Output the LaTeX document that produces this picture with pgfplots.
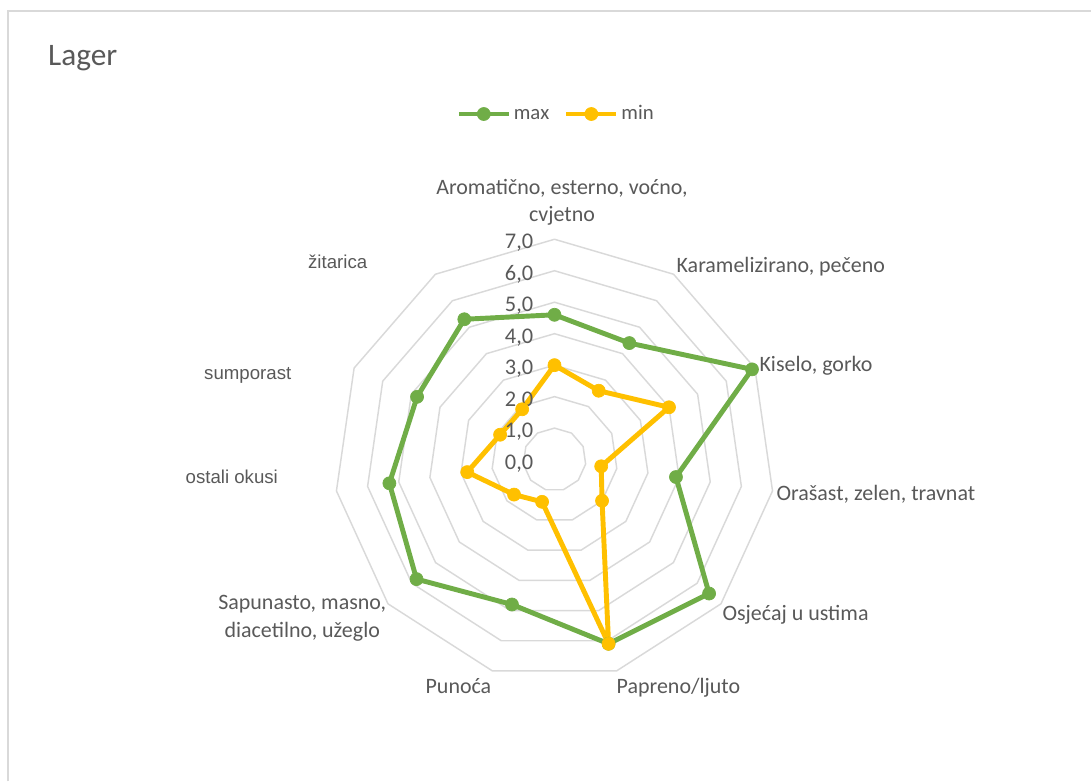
\documentclass[border=0pt]{standalone}
\usepackage{fontspec}
\setmainfont{Carlito}
\newfontfamily\arialf{Liberation Sans}
\usepackage{pgfplots}
\pgfplotsset{compat=1.18}
\definecolor{txt}{HTML}{595959}
\definecolor{gridc}{HTML}{D9D9D9}
\definecolor{cmax}{HTML}{70AD47}
\definecolor{cmin}{HTML}{FFC000}
\begin{document}
\begin{tikzpicture}
\begin{axis}[
  x=23.625pt, y=23.625pt,
  xmin=-17.619, xmax=17.048, ymin=-10.222, ymax=14.603,
  hide axis, clip=false,
  legend style={at={(axis cs:0.06,10.98)}, anchor=center, draw=none, fill=none,
    legend columns=2, font=\fontsize{15.6}{18}\selectfont\color{txt},
    nodes={text depth=0pt, text height=1.6ex},
    /tikz/every even column/.append style={column sep=9pt}},
  legend image code/.code={\draw[mark repeat=2,mark phase=2] plot coordinates {(0pt,0pt) (18.75pt,0pt) (37.5pt,0pt)};},
]
\path (axis cs:-17.619,-10.222) rectangle (axis cs:17.048,14.603);
\draw[gridc, line width=1.5pt] (axis cs:-17.365,-10.222) -- (axis cs:-17.365,14.254) -- (axis cs:17.048,14.254);
% grid rings
\pgfplotsinvokeforeach{1,2,3,4,5,6,7}{
\addplot[forget plot, gridc, line width=1.1pt, data cs=polar, no marks, line join=miter] coordinates {
(90,#1) (57.2727,#1) (24.5455,#1) (-8.1818,#1) (-40.9091,#1) (-73.6364,#1)
(-106.3636,#1) (-139.0909,#1) (-171.8182,#1) (-204.5455,#1) (-237.2727,#1)} -- cycle;
}
% max
\addplot[cmax, line width=3.7pt, line join=round, data cs=polar, mark=*, mark size=4.9pt,
  mark options={solid, line width=0.5pt, fill=cmax, draw=cmax}] coordinates {
(90,4.6) (57.2727,4.4) (24.5455,6.9) (-8.1818,3.9) (-40.9091,6.5) (-73.6364,6.1)
(-106.3636,4.8) (-139.0909,5.8) (-171.8182,5.3) (-204.5455,4.8) (-237.2727,5.3)} -- cycle;
\addlegendentry{max}
% min
\addplot[cmin, line width=3.7pt, line join=round, data cs=polar, mark=*, mark size=4.9pt,
  mark options={solid, line width=0.5pt, fill=cmin, draw=cmin}] coordinates {
(90,3.0) (57.2727,2.6) (24.5455,4.0) (-8.1818,1.5) (-40.9091,2.0) (-73.6364,6.1)
(-106.3636,1.4) (-139.0909,1.7) (-171.8182,2.8) (-204.5455,1.9) (-237.2727,1.9)} -- cycle;
\addlegendentry{min}
% radial tick labels
\pgfplotsinvokeforeach{0,1,2,3,4,5,6,7}{
\node[anchor=east, text depth=0pt, inner sep=0pt, font=\fontsize{16.8}{19}\selectfont, text=txt] at (axis cs:-0.667,#1-0.07) {#1,0};
}
% title
\node[anchor=base west, inner sep=0pt, font=\fontsize{23.5}{28}\selectfont, text=txt] at (axis cs:-16.095,12.508) {Lager};
% category labels
\begin{scope}[every node/.style={inner sep=0pt, font=\fontsize{16.5}{20.25}\selectfont, text=txt}]
\node[anchor=base] at (axis cs:0.238,8.413) {Aromatično, esterno, voćno,};
\node[anchor=base] at (axis cs:0.238,7.556) {cvjetno};
\node[anchor=base west] at (axis cs:3.873,5.937) {Karamelizirano, pečeno};
\node[anchor=base west] at (axis cs:6.508,2.794) {Kiselo, gorko};
\node[anchor=base west] at (axis cs:7.048,-1.302) {Orašast, zelen, travnat};
\node[anchor=base west] at (axis cs:5.333,-5.111) {Osjećaj u ustima};
\node[anchor=base west] at (axis cs:1.968,-7.429) {Papreno/ljuto};
\node[anchor=base east] at (axis cs:-2.0,-7.429) {Punoća};
\node[anchor=base] at (axis cs:-8.016,-4.762) {Sapunasto, masno,};
\node[anchor=base] at (axis cs:-8.016,-5.651) {diacetilno, užeglo};
\end{scope}
\begin{scope}[every node/.style={inner sep=0pt, font=\arialf\fontsize{14}{17}\selectfont, text=txt}]
\node[anchor=base] at (axis cs:-6.889,6.063) {žitarica};
\node[anchor=base] at (axis cs:-9.746,2.540) {sumporast};
\node[anchor=base] at (axis cs:-10.254,-0.762) {ostali okusi};
\end{scope}
\end{axis}
\end{tikzpicture}
\end{document}
